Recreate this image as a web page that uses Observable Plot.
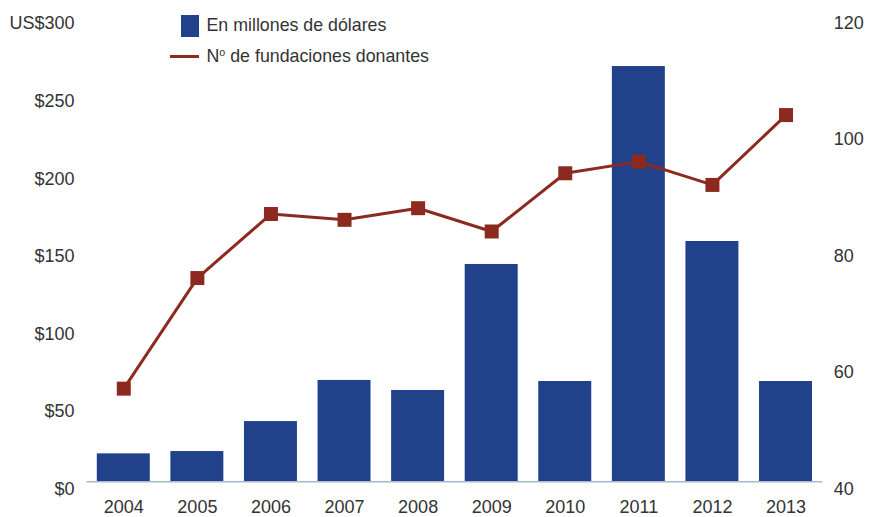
<!DOCTYPE html>
<html>
<head>
<meta charset="utf-8">
<script src="https://cdn.jsdelivr.net/npm/d3@7"></script>
<script src="https://cdn.jsdelivr.net/npm/@observablehq/plot@0.6"></script>
<style>
  html, body { margin: 0; padding: 0; background: #fff; }
  #wrap { position: relative; width: 869px; height: 517px; font-family: "Liberation Sans", Arial, sans-serif; color: #333; }
  #legend { position: absolute; left: 0; top: 0; font-size: 17.8px; color: #333; }
  .li { position: absolute; white-space: nowrap; }
  .sw-bar { position: absolute; left: 181px; top: 15px; width: 18px; height: 22px; background: #21418a; }
  .sw-line { position: absolute; left: 170px; top: 54.5px; width: 29px; height: 3px; background: #8c2a20; }
  sup { font-size: 0.6em; vertical-align: 0.6em; line-height: 0; }
</style>
</head>
<body>
<div id="wrap">
  <div id="chart"></div>
  <div id="legend">
    <div class="sw-bar"></div>
    <div class="li" style="left:206.5px; top:15px;">En millones de dólares</div>
    <div class="sw-line"></div>
    <div class="li" style="left:206.5px; top:46px;">N<sup>o</sup> de fundaciones donantes</div>
  </div>
</div>
<script>
const years = ["2004","2005","2006","2007","2008","2009","2010","2011","2012","2013"];
const montos = [18.0, 19.5, 38.8, 65.3, 58.8, 140.0, 64.6, 267.5, 154.8, 64.6];
const fundaciones = [56, 75, 86, 85, 87, 83, 93, 95, 91, 103];
const leftTicks = [0, 50, 100, 150, 200, 250, 300];
const leftLabels = ["$0", "$50", "$100", "$150", "$200", "$250", "US$300"];
const rightTicks = [40, 60, 80, 100, 120];

// map right-axis values (40..120) onto the left scale (0..300)
const toLeft = n => (n - 40) * 300 / 80;

const data = years.map((year, i) => ({year, monto: montos[i], fund: fundaciones[i]}));

const chart = Plot.plot({
  width: 869,
  height: 517,
  marginTop: 15.6,
  marginBottom: 35.7,
  marginLeft: 86.5,
  marginRight: 46.7,
  style: {fontFamily: "Liberation Sans, Arial, sans-serif", fontSize: "18px", color: "#333", background: "#fff"},
  x: {domain: years, paddingInner: 0.28, paddingOuter: 0.14, round: false, label: null},
  y: {domain: [0, 300], label: null},
  marks: [
    Plot.barY(data, {x: "year", y: "monto", fill: "#21418a"}),
    Plot.ruleY([0], {stroke: "#a9b8cc", strokeWidth: 1.5}),
    Plot.axisX({tickSize: 0, tickPadding: 18.5, label: null, fill: "#333"}),
    Plot.axisY({anchor: "left", ticks: leftTicks, tickFormat: d => leftLabels[leftTicks.indexOf(d)], tickSize: 0, tickPadding: 12.5, dy: 7.5, label: null, fill: "#333"}),
    Plot.axisY({anchor: "right", ticks: rightTicks.map(toLeft), tickFormat: d => String(Math.round(d * 80 / 300 + 40)), tickSize: 0, tickPadding: 11, dy: 7, label: null, fill: "#333"}),
    Plot.line(data, {x: "year", y: d => toLeft(d.fund), stroke: "#8c2a20", strokeWidth: 3}),
    Plot.dot(data, {x: "year", y: d => toLeft(d.fund), symbol: "square", r: 7.9, fill: "#8c2a20", stroke: "none"})
  ]
});
document.getElementById("chart").appendChild(chart);
</script>
</body>
</html>
